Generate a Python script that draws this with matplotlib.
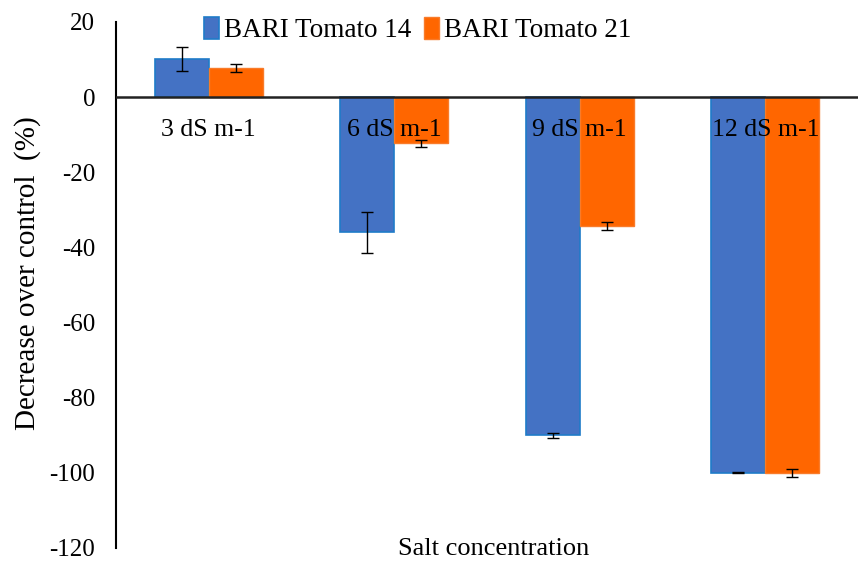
import matplotlib
matplotlib.use("Agg")
import matplotlib.pyplot as plt
import numpy as np

categories = ["3 dS m-1", "6 dS m-1", "9 dS m-1", "12 dS m-1"]
series_names = ["BARI Tomato 14", "BARI Tomato 21"]
t14 = [10.2, -36.0, -90.0, -100.0]
t14_err = [3.2, 5.4, 0.6, 0.1]
t21 = [7.7, -12.3, -34.3, -100.0]
t21_err = [1.1, 0.9, 1.0, 1.1]
yticks = [20, 0, -20, -40, -60, -80, -100, -120]
ytick_labels = ["20", "0", "-20", "-40", "-60", "-80", "-100", "-120"]

plt.rcParams['font.family'] = ['Liberation Serif', 'DejaVu Serif']

fig = plt.figure(figsize=(8.58, 5.62), dpi=100)
ax = fig.add_axes([116/858, 1-548/562, 1-116/858, (548-22)/562])

x = np.arange(len(categories))
w = 0.29
ax.bar(x - w/2, t14, w, color='#4472C4', edgecolor='#1F7BC8', linewidth=1.2,
       yerr=t14_err, error_kw=dict(ecolor='black', elinewidth=1, capsize=4, capthick=1),
       label=series_names[0], zorder=2)
ax.bar(x + w/2, t21, w, color='#FF6600', edgecolor='#F97B2A', linewidth=1.0,
       yerr=t21_err, error_kw=dict(ecolor='black', elinewidth=1, capsize=4, capthick=1),
       label=series_names[1], zorder=2)

ax.set_xlim(-0.5, len(categories) - 0.5)
ax.set_ylim(-120, 20)
ax.set_yticks(yticks)
ax.set_yticklabels(ytick_labels)
ax.tick_params(axis='y', length=0, labelsize=18, pad=15)
ax.set_xticks([])
for s in ['top', 'right', 'bottom']:
    ax.spines[s].set_visible(False)
ax.spines['left'].set_linewidth(1.5)
ax.axhline(0, color='#222222', linewidth=1.8, zorder=3)

for xi, c in zip(x, categories):
    ax.text(xi, -8.8, c, ha='center', va='center', fontsize=18.5, zorder=4)

fig.text(28/858, 1-273/562, "Decrease over control  (%)", rotation=90,
         ha='center', va='center', fontsize=21)
fig.text(494/858, 1-549/562, "Salt concentration", ha='center', va='center', fontsize=19)

leg = fig.legend(loc='center left', bbox_to_anchor=(204/858, 1-30/562), ncol=2,
                 frameon=False, fontsize=19.5, handlelength=0.55, handleheight=0.85,
                 handletextpad=0.2, columnspacing=0.45, borderaxespad=0, borderpad=0)

fig.savefig("out.png", dpi=100)
